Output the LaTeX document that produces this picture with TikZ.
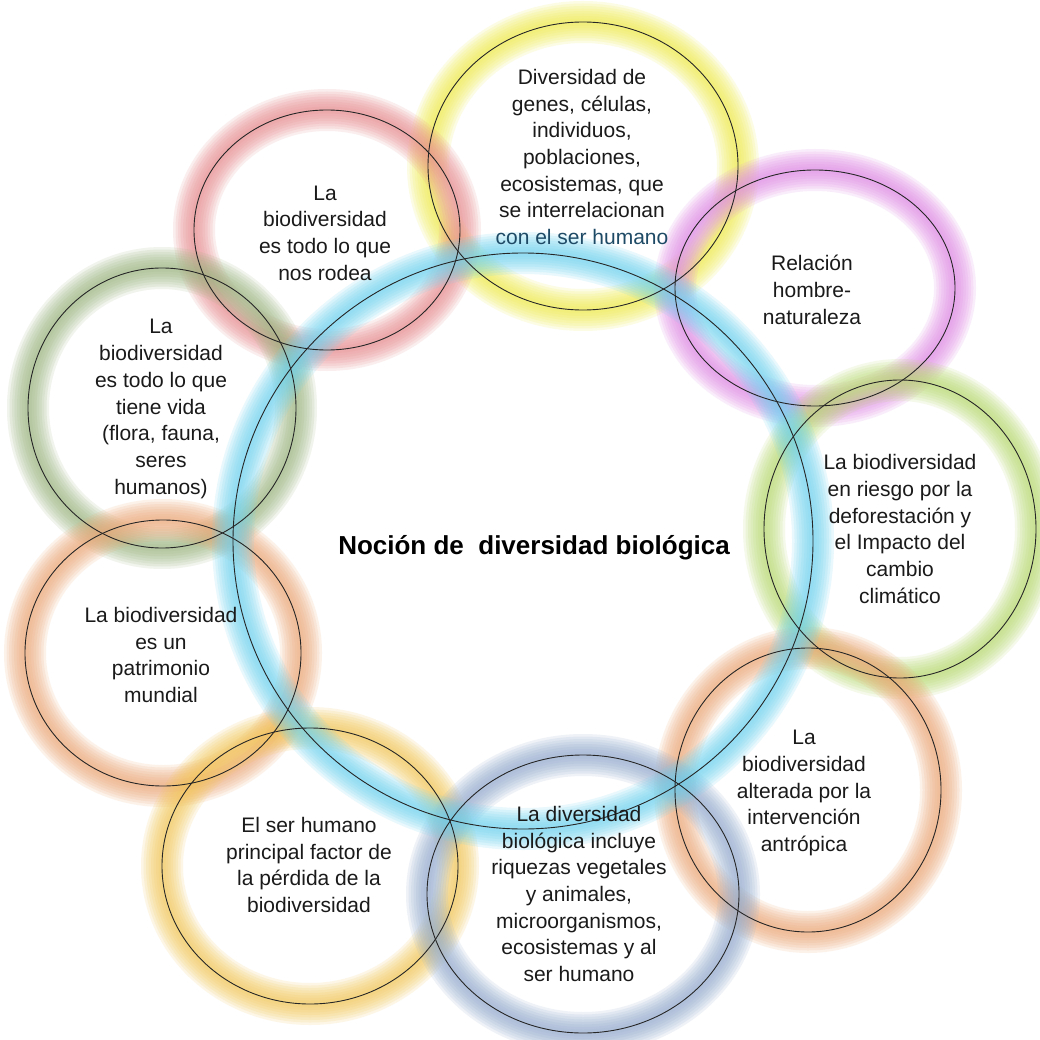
\documentclass[tikz,border=0pt]{standalone}
\usepackage{fontspec}
\setmainfont{Liberation Sans}
\definecolor{cCyan}{HTML}{6FD3F0}
\definecolor{cYellow}{HTML}{F0EC50}
\definecolor{cRed}{HTML}{EA8E90}
\definecolor{cMagenta}{HTML}{E08CE6}
\definecolor{cLime}{HTML}{BADB72}
\definecolor{cOlive}{HTML}{9DB682}
\definecolor{cOrange}{HTML}{EEA878}
\definecolor{cGold}{HTML}{F3C85A}
\definecolor{cSteel}{HTML}{94ADCF}
\definecolor{cText}{HTML}{1A1A1A}
\definecolor{cTeal}{HTML}{1E4A66}
\newcommand{\glowring}[5]{%
  \foreach \w in {42,37,32,27,22,17,12,7}{%
    \draw[line width=\w pt, draw=#5, opacity=0.15] (#1,#2) ellipse [x radius=#3pt, y radius=#4pt];
  }%
}
\tikzset{
  ring/.style={draw=black!85, line width=0.9pt},
  label/.style={align=center, text=cText, inner sep=0pt,
    font=\fontsize{21}{26.7}\selectfont},
  titlelabel/.style={text=black, inner sep=0pt,
    font=\fontsize{26}{30}\selectfont\bfseries}
}
\begin{document}
\begin{tikzpicture}[x=1pt,y=-1pt]
\fill[white] (0,0) rectangle (1040,1040);
\useasboundingbox (0,0) rectangle (1040,1040);
% glows
\glowring{583}{166}{155}{144}{cYellow}
\glowring{327}{230}{133}{120}{cRed}
\glowring{815}{288}{140}{118}{cMagenta}
\glowring{900}{529}{136}{149}{cLime}
\glowring{162}{408}{134}{140}{cOlive}
\glowring{163}{653}{138}{133}{cOrange}
\glowring{808}{790}{133}{142}{cOrange}
\glowring{310}{866}{148}{138}{cGold}
\glowring{583}{894}{156}{139}{cSteel}
\glowring{523}{541}{290}{288}{cCyan}
% rings
\draw[ring] (523,541) ellipse [x radius=290pt, y radius=288pt];
\draw[ring] (583,166) ellipse [x radius=155pt, y radius=144pt];
\draw[ring] (327,230) ellipse [x radius=133pt, y radius=120pt];
\draw[ring] (815,288) ellipse [x radius=140pt, y radius=118pt];
\draw[ring] (900,529) ellipse [x radius=136pt, y radius=149pt];
\draw[ring] (162,408) ellipse [x radius=134pt, y radius=140pt];
\draw[ring] (163,653) ellipse [x radius=138pt, y radius=133pt];
\draw[ring] (808,790) ellipse [x radius=133pt, y radius=142pt];
\draw[ring] (310,866) ellipse [x radius=148pt, y radius=138pt];
\draw[ring] (583,894) ellipse [x radius=156pt, y radius=139pt];
% texts
\node[titlelabel] (title) at (534,548) {Noción de\ \ diversidad biológica};
\node[label] (genes) at (582,157) {Diversidad de\\genes, células,\\individuos,\\poblaciones,\\ecosistemas, que\\se interrelacionan\\\textcolor{cTeal}{con el ser humano}};
\node[label] (rodea) at (325,233) {La\\biodiversidad\\es todo lo que\\nos rodea};
\node[label] (relacion) at (812,290) {Relación\\hombre-\\naturaleza};
\node[label] (riesgo) at (900,529) {La biodiversidad\\en riesgo por la\\deforestación y\\el Impacto del\\cambio\\climático};
\node[label] (vida) at (161,409) {La\\biodiversidad\\es todo lo que\\tiene vida\\(flora, fauna,\\seres\\humanos)};
\node[label] (patrimonio) at (161,655) {La biodiversidad\\es un\\patrimonio\\mundial};
\node[label] (alterada) at (804,793) {La\\biodiversidad\\alterada por la\\intervención\\antrópica};
\node[label] (perdida) at (309,865) {El ser humano\\principal factor de\\la pérdida de la\\biodiversidad};
\node[label] (incluye) at (579,894) {La diversidad\\biológica incluye\\riquezas vegetales\\y animales,\\microorganismos,\\ecosistemas y al\\ser humano};
\end{tikzpicture}
\end{document}
